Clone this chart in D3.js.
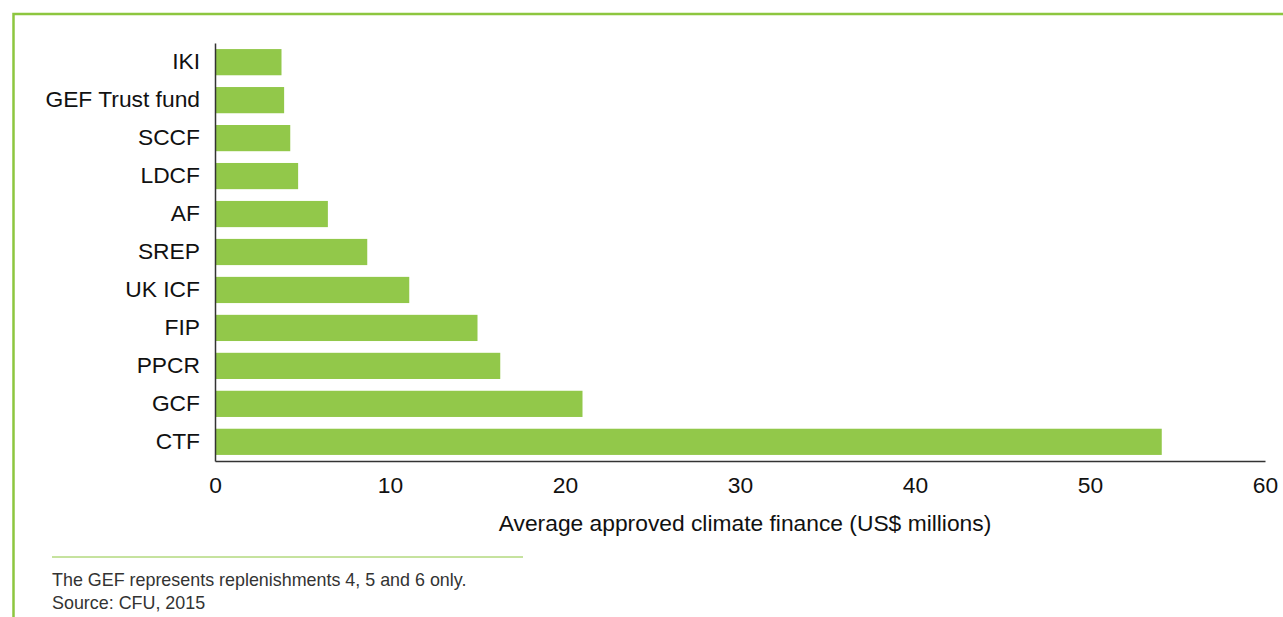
<!DOCTYPE html>
<html><head><meta charset="utf-8">
<script src="https://cdn.jsdelivr.net/npm/d3@7"></script>
<style>body{margin:0;background:#fff;}svg{display:block;font-family:"Liberation Sans",Arial,sans-serif;}</style>
</head><body>
<svg id="c" width="1283" height="617"></svg>
<script>
const categories = ["IKI","GEF Trust fund","SCCF","LDCF","AF","SREP","UK ICF","FIP","PPCR","GCF","CTF"];
const values = [3.8,3.95,4.3,4.75,6.45,8.7,11.1,15.0,16.3,21.0,54.1];
const xTicks = [0,10,20,30,40,50,60];
const axisTitle = "Average approved climate finance (US$ millions)";
const notes = ["The GEF represents replenishments 4, 5 and 6 only.","Source: CFU, 2015"];

const svg = d3.select("#c");
const green = "#92c84a";
// frame
svg.append("path").attr("d","M13.5,617 V14 H1283").attr("fill","none").attr("stroke","#8dc63f").attr("stroke-width",2.5);

const x = d3.scaleLinear().domain([0,60]).range([215,1265]);
const y = d3.scaleBand().domain(categories).range([43,461]).paddingInner(0.31).paddingOuter(0.16);

svg.append("g").selectAll("rect").data(categories).join("rect")
  .attr("x", x(0)).attr("y", d=>y(d)).attr("height", y.bandwidth())
  .attr("width", (d,i)=>x(values[i])-x(0)).attr("fill", green);

// axes
const xa = svg.append("g").attr("transform","translate(0,461)")
  .call(d3.axisBottom(x).tickValues(xTicks).tickSize(0).tickPadding(16));
xa.select(".domain").attr("stroke","#333").attr("stroke-width",1.5);
xa.selectAll("text").attr("font-size","22.8px").attr("fill","#111").attr("font-family","Liberation Sans, Arial, sans-serif");

const ya = svg.append("g").attr("transform","translate(215,0)")
  .call(d3.axisLeft(y).tickSize(0).tickPadding(15));
ya.select(".domain").attr("stroke","#333").attr("stroke-width",1.5);
ya.selectAll("text").attr("font-size","22.8px").attr("fill","#111").attr("font-family","Liberation Sans, Arial, sans-serif");

svg.append("text").attr("x",745).attr("y",531).attr("text-anchor","middle")
  .attr("font-size","22.8px").attr("fill","#111").text(axisTitle);

svg.append("line").attr("x1",52).attr("x2",523).attr("y1",557).attr("y2",557).attr("stroke","#8dc63f").attr("stroke-width",1);
svg.selectAll("text.note").data(notes).join("text").attr("class","note")
  .attr("x",52).attr("y",(d,i)=>586+i*23).attr("font-size","17.9px").attr("fill","#333").text(d=>d);
</script>
</body></html>
